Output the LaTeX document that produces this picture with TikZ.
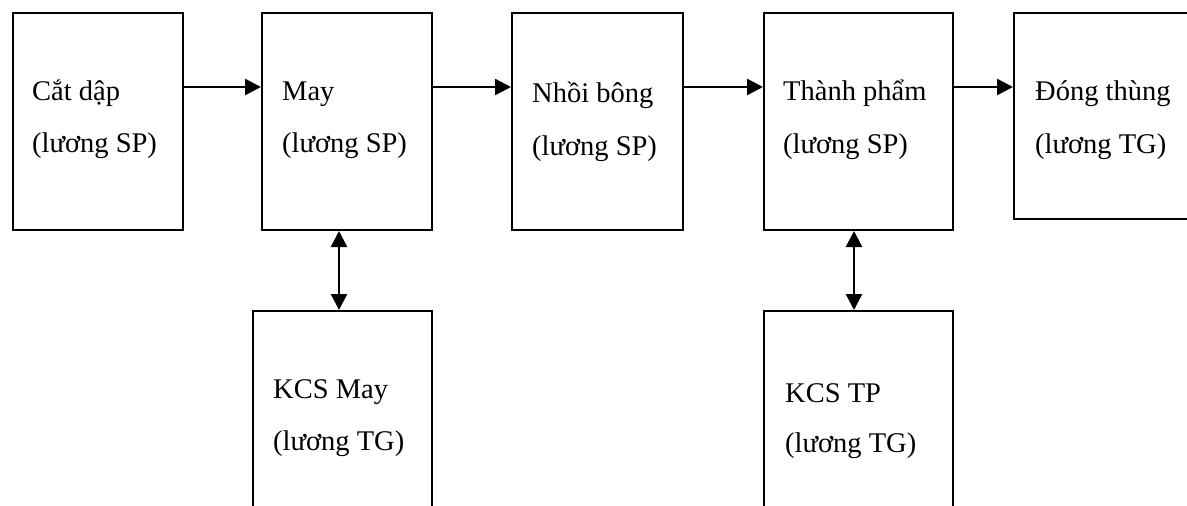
\documentclass[tikz,border=0pt]{standalone}
\usepackage{fontspec}
\setmainfont{Liberation Serif}
\usetikzlibrary{arrows.meta}

\begin{document}
\begin{tikzpicture}[x=1pt, y=-1pt,
  stage/.style={draw=black, line width=2pt, rectangle, inner sep=0pt, fill=white},
  lbl/.style={anchor=base west, inner sep=0pt, font=\fontsize{28.5}{34}\selectfont},
  tip/.style={Triangle[length=16pt, width=16pt]},
  flow/.style={line width=2.4pt, -{Triangle[length=16pt, width=16pt]}},
  both/.style={line width=2.4pt, {Triangle[length=16pt, width=16pt]}-{Triangle[length=16pt, width=16pt]}}]
  \useasboundingbox (0,0) rectangle (1187,506);
  \clip (0,0) rectangle (1187,506);

  % process stages (corners given as top-left / bottom-right)
  \node[stage, minimum width=170pt, minimum height=217pt, anchor=north west] (cat)   at (12,12)   {};
  \node[stage, minimum width=170pt, minimum height=217pt, anchor=north west] (may)   at (261,12)  {};
  \node[stage, minimum width=171pt, minimum height=217pt, anchor=north west] (nhoi)  at (511,12)  {};
  \node[stage, minimum width=189pt, minimum height=217pt, anchor=north west] (tp)    at (763,12)  {};
  \node[stage, minimum width=200pt, minimum height=206pt, anchor=north west] (dong)  at (1013,12) {};
  \node[stage, minimum width=179pt, minimum height=220pt, anchor=north west] (kcsm)  at (252,310) {};
  \node[stage, minimum width=189pt, minimum height=220pt, anchor=north west] (kcstp) at (763,310) {};

  % labels
  \node[lbl] (catA)   at (32,100)   {Cắt dập};
  \node[lbl] (catB)   at (32,152)   {(lương SP)};
  \node[lbl] (mayA)   at (282,100)  {May};
  \node[lbl] (mayB)   at (282,152)  {(lương SP)};
  \node[lbl] (nhoiA)  at (532,102)  {Nhồi bông};
  \node[lbl] (nhoiB)  at (532,155)  {(lương SP)};
  \node[lbl] (tpA)    at (783,100)  {Thành phẩm};
  \node[lbl] (tpB)    at (783,153)  {(lương SP)};
  \node[lbl] (dongA)  at (1035,100) {Đóng thùng};
  \node[lbl] (dongB)  at (1035,153) {(lương TG)};
  \node[lbl] (kcsmA)  at (273,398)  {KCS May};
  \node[lbl] (kcsmB)  at (273,450)  {(lương TG)};
  \node[lbl] (kcstpA) at (785,402)  {KCS TP};
  \node[lbl] (kcstpB) at (785,452)  {(lương TG)};

  % connector guides
  \coordinate (row)  at (0,87);
  \coordinate (colM) at (339,0);
  \coordinate (colT) at (854,0);

  % main flow
  \draw[flow] (cat.east |- row)  -- (may.west |- row);
  \draw[flow] (may.east |- row)  -- (nhoi.west |- row);
  \draw[flow] (nhoi.east |- row) -- (tp.west |- row);
  \draw[flow] (tp.east |- row)   -- (dong.west |- row);

  % quality control links
  \draw[both] (may.south -| colM) -- (kcsm.north -| colM);
  \draw[both] (tp.south -| colT)  -- (kcstp.north -| colT);
\end{tikzpicture}
\end{document}
